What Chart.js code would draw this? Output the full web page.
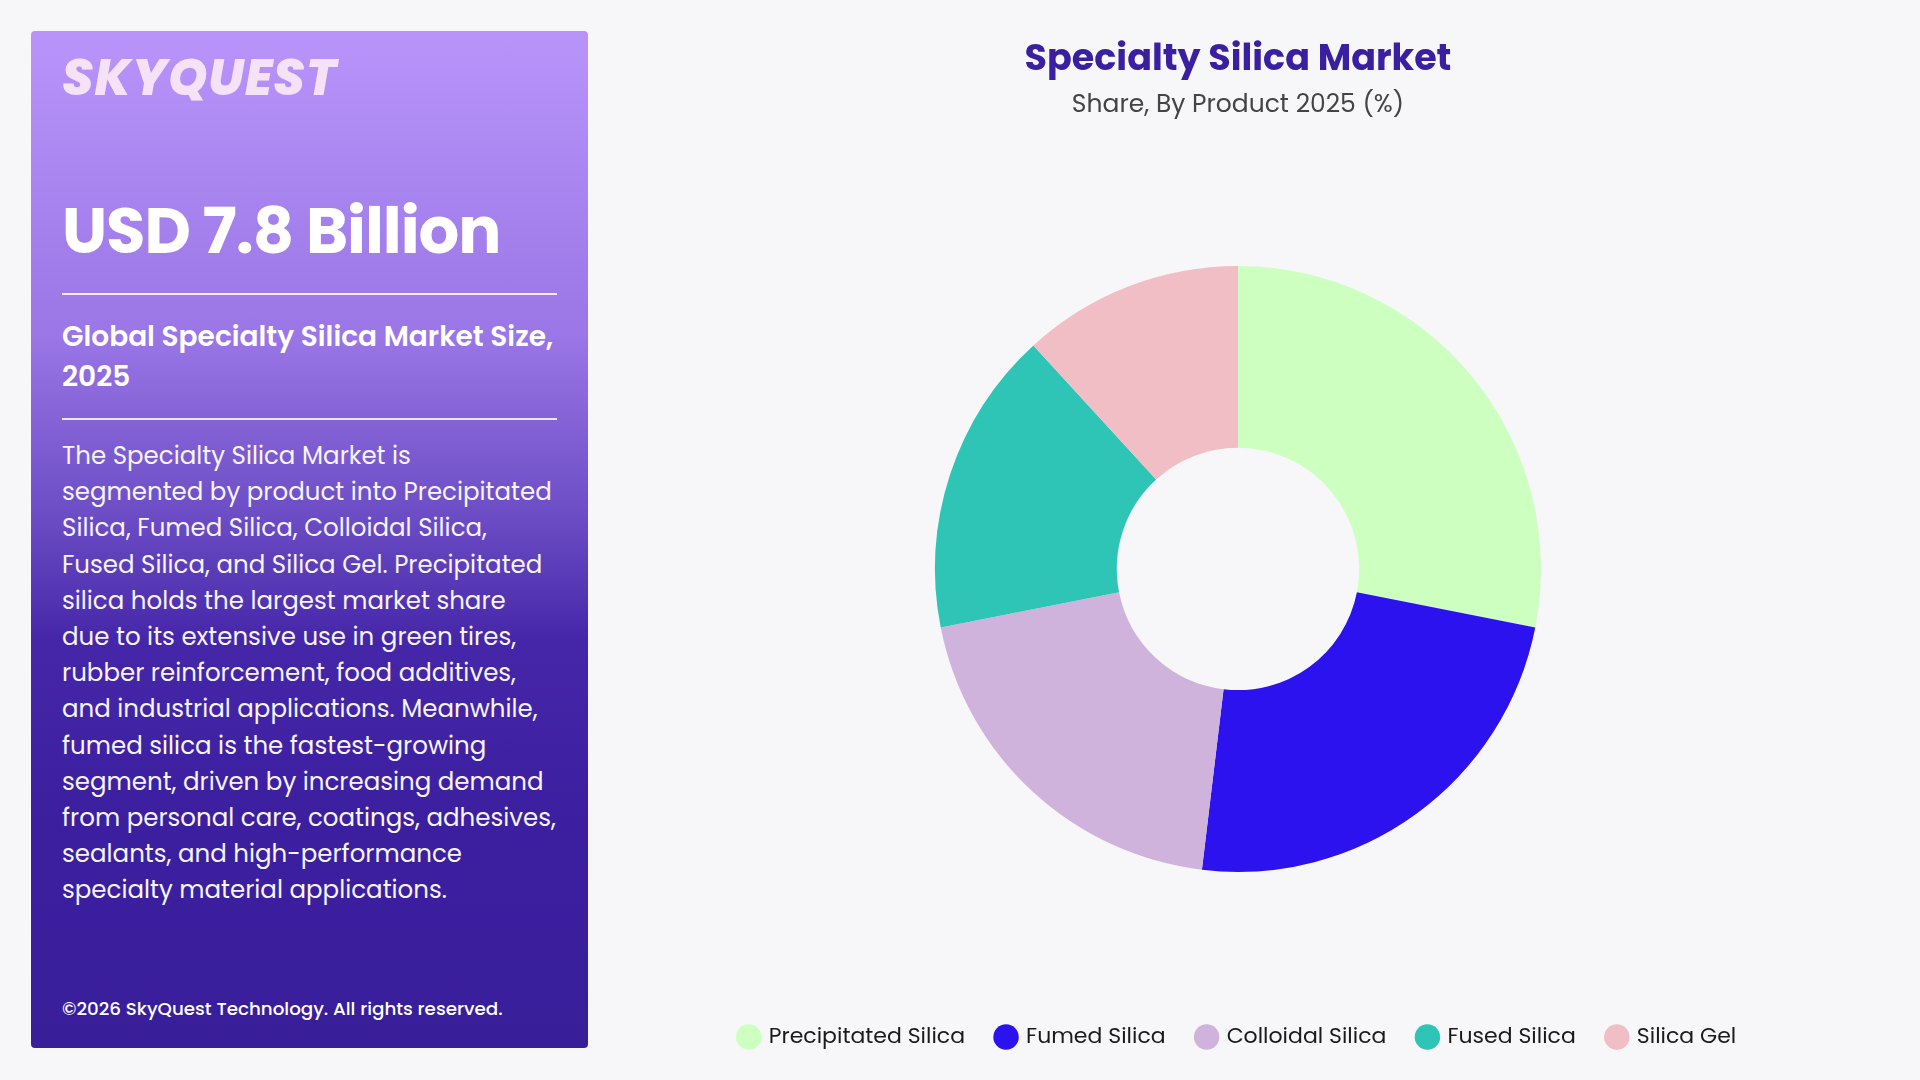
<!DOCTYPE html>
<html lang="en">
<head>
    <meta charset="UTF-8">
    <title>Specialty Silica Market</title>
    <script src="https://cdn.jsdelivr.net/npm/chart.js"></script>
    <style>
        body { margin: 0; width: 1920px; height: 1080px; overflow: hidden; background: #f7f7fa; font-family: 'Poppins', 'Open Sans', sans-serif; }
        .panel { position: absolute; left: 31px; top: 31px; width: 557px; height: 1017px; border-radius: 4px;
                 background: linear-gradient(180deg, #b894fa 0%, #9a76e6 30%, #6b4cc4 48%, #4526a8 60%, #3b1f9f 78%, #391e9a 100%);
                 color: #fff; }
        .panel > div { position: absolute; left: 31px; white-space: nowrap; }
        .logo { top: 22px; font-size: 50px; line-height: 50px; font-weight: 800; font-style: italic; color: #f6e2f6; letter-spacing: 1px; }
        .big { top: 167px; font-size: 64px; line-height: 66px; font-weight: 700; letter-spacing: -1px; }
        .rule { height: 2px; width: 495px; background: rgba(255,255,255,0.85); }
        .head { top: 286px; font-size: 28px; line-height: 40px; font-weight: 600; }
        .para { top: 407px; font-size: 24.5px; line-height: 36.2px; color: #f6f4fc; }
        .copy { top: 966px; font-size: 18.3px; line-height: 24px; font-weight: 500; }
        #wrap { position: absolute; left: 588px; top: 0; width: 1300px; height: 1080px; }
    </style>
</head>
<body>
    <div class="panel">
        <div class="logo">SKYQUEST</div>
        <div class="big">USD 7.8 Billion</div>
        <div class="rule" style="top: 262px;"></div>
        <div class="head">Global Specialty Silica Market Size,<br>2025</div>
        <div class="rule" style="top: 387px;"></div>
        <div class="para">The Specialty Silica Market is<br>segmented by product into Precipitated<br>Silica, Fumed Silica, Colloidal Silica,<br>Fused Silica, and Silica Gel. Precipitated<br>silica holds the largest market share<br>due to its extensive use in green tires,<br>rubber reinforcement, food additives,<br>and industrial applications. Meanwhile,<br>fumed silica is the fastest-growing<br>segment, driven by increasing demand<br>from personal care, coatings, adhesives,<br>sealants, and high-performance<br>specialty material applications.</div>
        <div class="copy">©2026 SkyQuest Technology. All rights reserved.</div>
    </div>
    <div id="wrap"><canvas id="donut"></canvas></div>

    <script>
        // share by product, 2025 (%)
        const products = ['Precipitated Silica', 'Fumed Silica', 'Colloidal Silica', 'Fused Silica', 'Silica Gel'];
        const shares = [28.1, 23.8, 20.0, 16.3, 11.8];
        const colors = ['#ccffc0', '#2c12ee', '#cfb3dc', '#2ec4b6', '#f0bec4'];

        const fontFamily = "'Poppins', 'Open Sans', sans-serif";

        new Chart(document.getElementById('donut'), {
            type: 'doughnut',
            data: {
                labels: products,
                datasets: [{
                    data: shares,
                    backgroundColor: colors,
                    borderWidth: 0,
                    radius: 303,
                    cutout: '40%'
                }]
            },
            options: {
                responsive: true,
                maintainAspectRatio: false,
                animation: false,
                layout: { padding: { bottom: 22 } },
                plugins: {
                    title: {
                        display: true,
                        text: 'Specialty Silica Market',
                        color: '#3a20a0',
                        font: { family: fontFamily, size: 36.5, weight: 'bold' },
                        padding: { top: 39, bottom: 4 }
                    },
                    subtitle: {
                        display: true,
                        text: 'Share, By Product 2025 (%)',
                        color: '#444444',
                        font: { family: fontFamily, size: 25 },
                        padding: { top: 4, bottom: 23 }
                    },
                    legend: {
                        position: 'bottom',
                        labels: {
                            usePointStyle: true,
                            pointStyle: 'circle',
                            boxWidth: 18,
                            boxHeight: 18,
                            padding: 32,
                            color: '#1a1a1a',
                            font: { family: fontFamily, size: 22 }
                        }
                    },
                    tooltip: { enabled: false }
                }
            }
        });
    </script>
</body>
</html>
